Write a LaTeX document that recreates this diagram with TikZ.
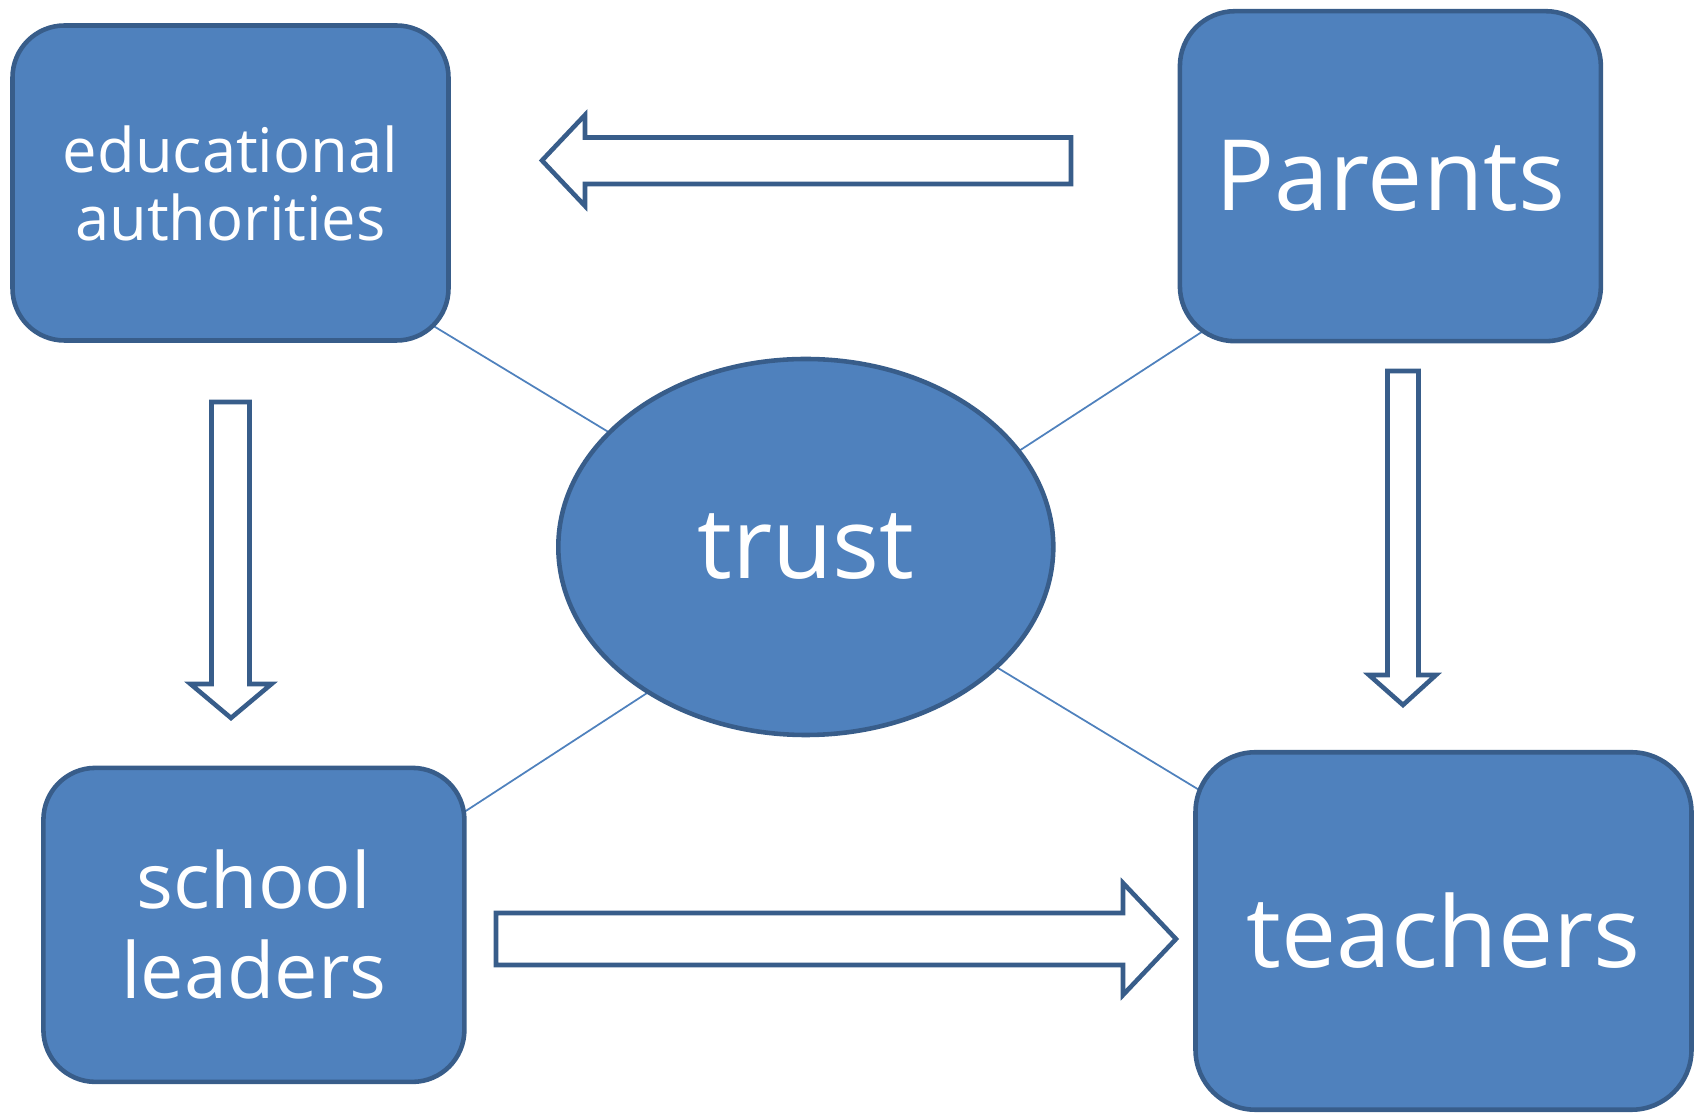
\documentclass[tikz,border=0pt]{standalone}
\usepackage{fontspec}
\setmainfont{Open Sans}
\usetikzlibrary{shapes.geometric,backgrounds}
\definecolor{boxfill}{HTML}{4F81BD}
\definecolor{boxline}{HTML}{385D8A}
\def\arrowParentsEdu{(5.42,-1.605) -- (5.85,-1.15) -- (5.85,-1.375) -- (10.71,-1.375) -- (10.71,-1.84) -- (5.85,-1.84) -- (5.85,-2.06) -- cycle}
\def\arrowEduSchool{(2.115,-4.02) -- (2.495,-4.02) -- (2.495,-6.84) -- (2.715,-6.84) -- (2.31,-7.18) -- (1.905,-6.84) -- (2.115,-6.84) -- cycle}
\def\arrowParentsTeachers{(13.875,-3.71) -- (14.185,-3.71) -- (14.185,-6.75) -- (14.36,-6.75) -- (14.03,-7.05) -- (13.69,-6.75) -- (13.875,-6.75) -- cycle}
\def\arrowSchoolTeachers{(4.96,-9.13) -- (11.23,-9.13) -- (11.23,-8.83) -- (11.76,-9.39) -- (11.23,-9.95) -- (11.23,-9.65) -- (4.96,-9.65) -- cycle}

\begin{document}
\begin{tikzpicture}[
    agent/.style={draw=boxline, fill=boxfill, line width=1.3pt, text=white, inner sep=0pt, align=center},
    link/.style={draw=boxfill, line width=0.5pt},
    blockarrow/.style={draw=boxline, fill=white, line width=1.3pt}]
  \useasboundingbox (0,0) rectangle (17.02,-11.15);
  \node[agent, rounded corners=5.2mm, minimum width=4.36cm, minimum height=3.15cm,
        font=\fontsize{17.5}{19.35}\selectfont] (edu) at (2.305,-1.83) {educational\\authorities};
  \node[agent, rounded corners=5.5mm, minimum width=4.21cm, minimum height=3.3cm,
        font=\fontsize{28}{33.6}\selectfont] (parents) at (13.904,-1.762) {Parents};
  \node[agent, rounded corners=5.2mm, minimum width=4.21cm, minimum height=3.14cm,
        font=\fontsize{22}{25.6}\selectfont] (school) at (2.539,-9.249) {school\\leaders};
  \node[agent, rounded corners=6mm, minimum width=4.96cm, minimum height=3.575cm,
        font=\fontsize{28}{33.6}\selectfont] (teachers) at (14.435,-9.31) {teachers};
  \node[agent, ellipse, minimum width=4.95cm, minimum height=3.76cm,
        font=\fontsize{28}{33.6}\selectfont] (trust) at (8.058,-5.47) {trust};
  \begin{scope}[on background layer]
    \draw[link] ([yshift=-2mm]edu.center) -- ([yshift=-0.7mm]teachers.center);
    \draw[link] ([yshift=-3.3mm]parents.center) -- ([yshift=-2.4mm]school.center);
  \end{scope}
  \draw[blockarrow] \arrowParentsEdu;
  \draw[blockarrow] \arrowEduSchool;
  \draw[blockarrow] \arrowParentsTeachers;
  \draw[blockarrow] \arrowSchoolTeachers;
\end{tikzpicture}
\end{document}
